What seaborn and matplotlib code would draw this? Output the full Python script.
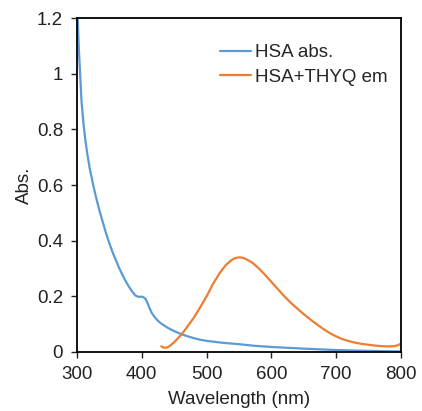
import matplotlib
matplotlib.use("Agg")
import matplotlib.pyplot as plt
import seaborn as sns
import pandas as pd

abs_wl = [300, 301, 302, 303, 305, 307, 310, 313, 316, 320, 325, 330, 335, 340, 345, 350, 355,
          360, 365, 370, 375, 380, 385, 390, 395, 400, 403, 406, 409, 412, 415, 420, 425, 430,
          440, 450, 460, 470, 480, 490, 500, 525, 550, 575, 600, 650, 700, 750, 800]
abs_val = [1.25, 1.2, 1.14, 1.08, 0.99, 0.9, 0.82, 0.76, 0.71, 0.655, 0.6, 0.55, 0.505, 0.465,
           0.425, 0.39, 0.358, 0.33, 0.302, 0.278, 0.255, 0.235, 0.218, 0.203, 0.198, 0.199,
           0.196, 0.19, 0.175, 0.158, 0.142, 0.125, 0.112, 0.102, 0.087, 0.075, 0.065, 0.057,
           0.05, 0.044, 0.04, 0.033, 0.028, 0.022, 0.018, 0.012, 0.007, 0.004, 0.002]

em_wl = [430, 435, 440, 445, 450, 455, 460, 465, 470, 480, 490, 500, 510, 520, 530, 540, 545,
         550, 555, 560, 570, 580, 590, 600, 610, 620, 630, 640, 650, 660, 670, 680, 690, 700,
         710, 720, 730, 740, 750, 760, 770, 780, 790, 795, 800]
em_val = [0.02, 0.015, 0.017, 0.025, 0.035, 0.047, 0.06, 0.074, 0.09, 0.122, 0.16, 0.2, 0.245,
          0.283, 0.313, 0.333, 0.338, 0.34, 0.339, 0.335, 0.322, 0.302, 0.278, 0.252, 0.226,
          0.2, 0.177, 0.156, 0.136, 0.117, 0.1, 0.083, 0.068, 0.056, 0.046, 0.039, 0.033, 0.029,
          0.026, 0.023, 0.021, 0.02, 0.021, 0.024, 0.03]

labels = ["HSA abs.", "HSA+THYQ em"]
colors = ["#5B9BD5", "#ED7D31"]
yticks = [0, 0.2, 0.4, 0.6, 0.8, 1.0, 1.2]
ytick_labels = ["0", "0.2", "0.4", "0.6", "0.8", "1", "1.2"]
xticks = [300, 400, 500, 600, 700, 800]

df = pd.concat([
    pd.DataFrame({"wl": abs_wl, "val": abs_val, "series": labels[0]}),
    pd.DataFrame({"wl": em_wl, "val": em_val, "series": labels[1]}),
])

sns.set_style("white")
plt.rcParams["font.family"] = ["Liberation Sans", "DejaVu Sans"]

fig = plt.figure(figsize=(4.22, 4.11), dpi=100)
ax = fig.add_axes([0.1825, 0.1436, 0.7675, 0.8124])
sns.lineplot(data=df, x="wl", y="val", hue="series", palette=dict(zip(labels, colors)),
             linewidth=1.6, ax=ax, sort=False, estimator=None)

ax.set_xlim(300, 800)
ax.set_ylim(0, 1.2)
ax.set_xticks(xticks)
ax.set_xticklabels([str(t) for t in xticks])
ax.set_yticks(yticks)
ax.set_yticklabels(ytick_labels)
ax.tick_params(axis="both", which="both", direction="out", length=4, width=1, pad=6,
               labelsize=13.5, colors="#222222", bottom=True, left=True, top=False, right=False)
for s in ax.spines.values():
    s.set_color("black")
    s.set_linewidth(1.3)
    s.set_visible(True)
ax.set_xlabel("Wavelength (nm)", fontsize=13.5, color="#222222", labelpad=6)
ax.set_ylabel("Abs.", fontsize=13.5, color="#222222", labelpad=3)

leg = ax.legend(loc="upper right", frameon=False, fontsize=13.5, handlelength=1.65,
                handletextpad=0.22, labelspacing=0.4, bbox_to_anchor=(1.012, 0.972))

fig.savefig("out.png", dpi=100)
